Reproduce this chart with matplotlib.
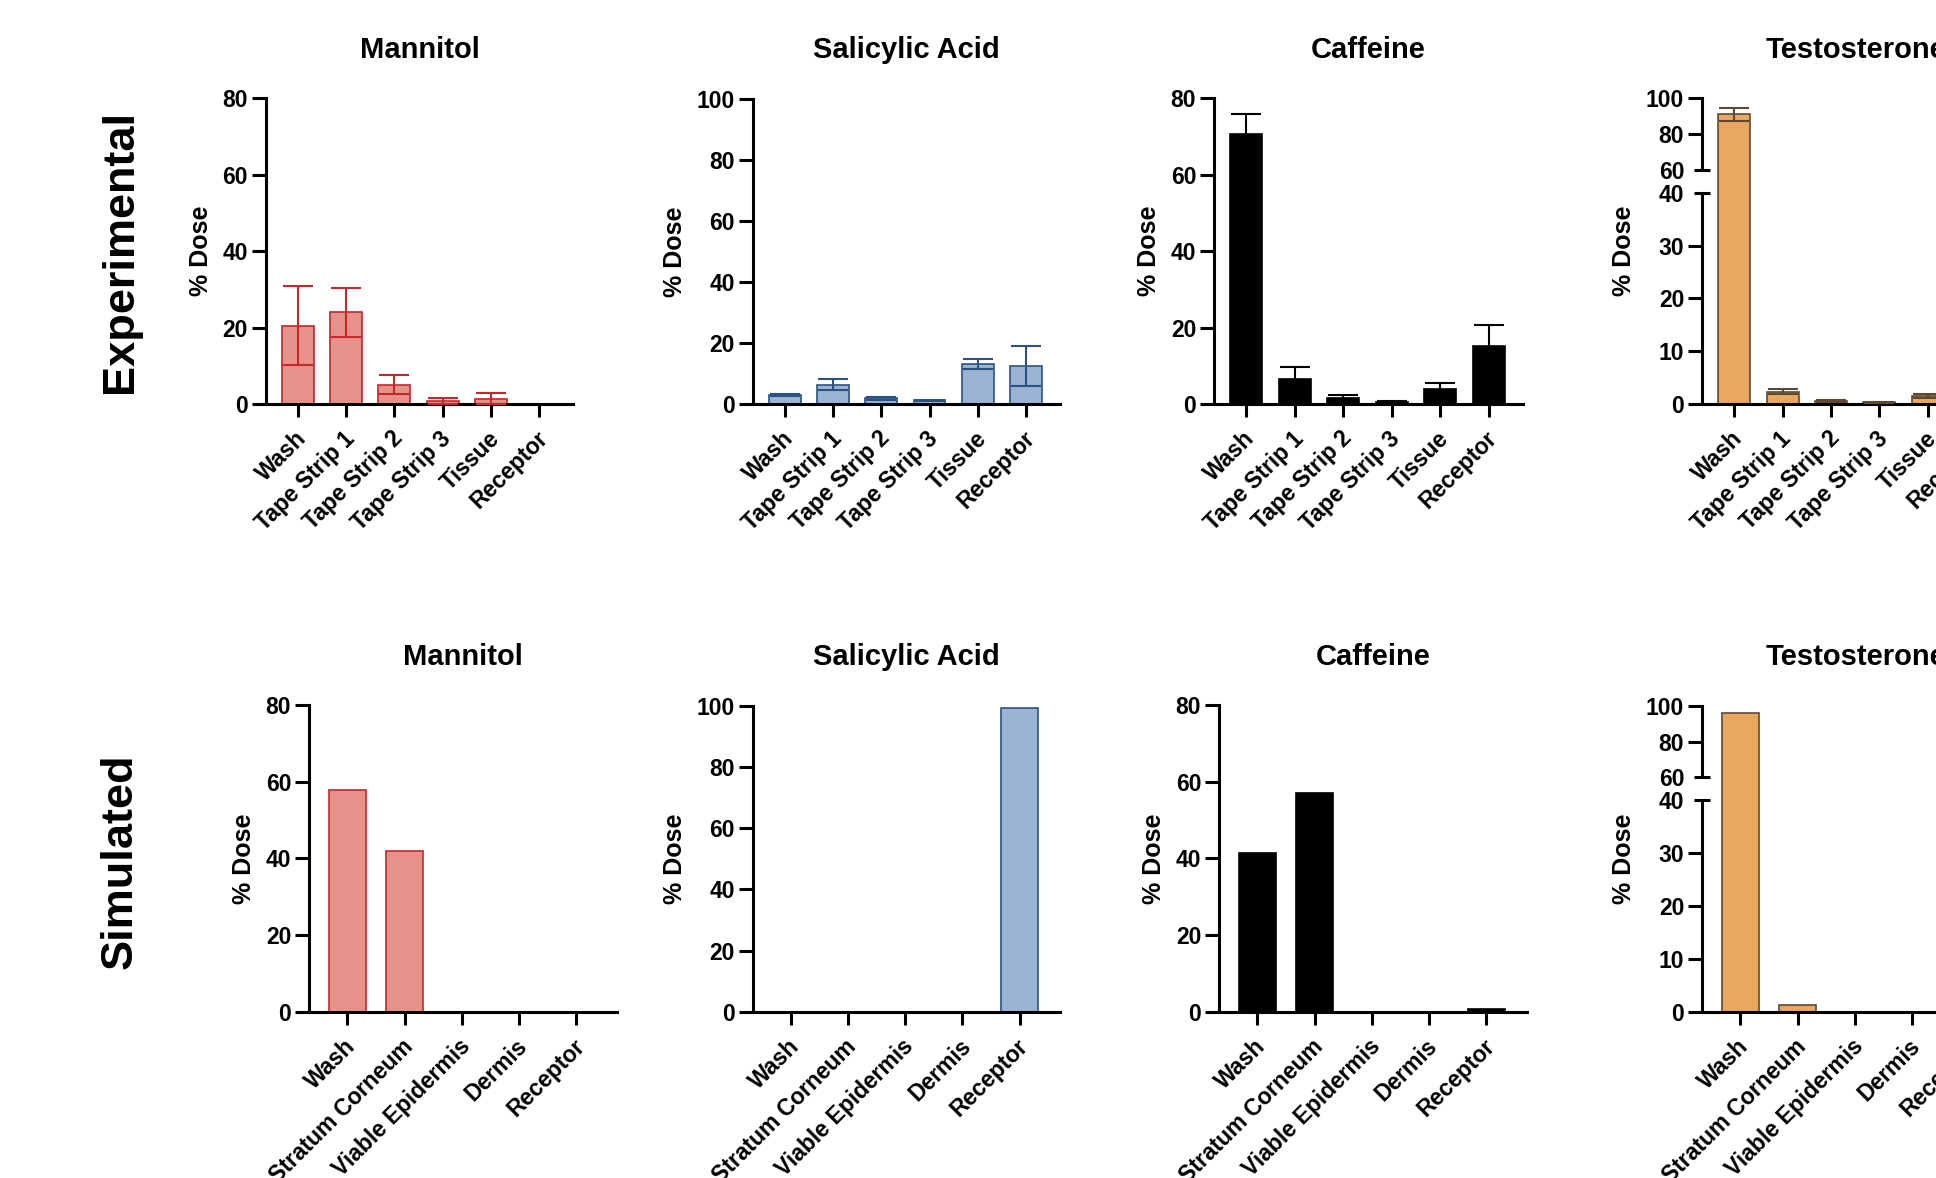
import numpy as np
import matplotlib
matplotlib.use("Agg")
import matplotlib.pyplot as plt
from matplotlib.transforms import ScaledTranslation

plt.rcParams['font.family'] = ['Liberation Sans', 'DejaVu Sans']
plt.rcParams['font.weight'] = 'bold'
plt.rcParams['axes.labelweight'] = 'bold'

W, H, DPI = 1936, 1178, 100

# ---------------- data ----------------
exp_categories = ["Wash", "Tape Strip 1", "Tape Strip 2", "Tape Strip 3", "Tissue", "Receptor"]
sim_categories = ["Wash", "Stratum Corneum", "Viable Epidermis", "Dermis", "Receptor"]
compounds = ["Mannitol", "Salicylic Acid", "Caffeine", "Testosterone"]
row_labels = ["Experimental", "Simulated"]

mannitol_exp = [20.5, 24.0, 5.1, 0.8, 1.4, 0.0]
mannitol_exp_sd = [10.3, 6.4, 2.6, 0.9, 1.5, 0.0]
salicylic_exp = [2.9, 6.3, 1.9, 1.2, 13.2, 12.5]
salicylic_exp_sd = [0.35, 1.8, 0.5, 0.25, 1.6, 6.5]
caffeine_exp = [70.6, 6.5, 1.6, 0.6, 3.9, 15.1]
caffeine_exp_sd = [5.4, 3.1, 0.7, 0.3, 1.6, 5.6]
testosterone_exp = [91.1, 2.3, 0.6, 0.3, 1.5, 0.5]
testosterone_exp_sd = [3.5, 0.5, 0.2, 0.1, 0.4, 0.2]

mannitol_sim = [57.8, 41.9, 0.0, 0.0, 0.0]
salicylic_sim = [0.0, 0.0, 0.0, 0.0, 99.4]
caffeine_sim = [41.5, 57.0, 0.0, 0.0, 0.7]
testosterone_sim = [95.8, 1.3, 0.0, 0.0, 0.0]

ticks_80 = [0, 20, 40, 60, 80]
ticks_100 = [0, 20, 40, 60, 80, 100]
ticks_broken = [0, 10, 20, 30, 40, 60, 80, 100]

fill_colors = ["#E5928B", "#9BB3D4", "#000000", "#E8A85F"]
edge_colors = ["#C4282C", "#2C5282", "#000000", "#5E4A34"]

# ---------------- styling ----------------
LW = 2.2
TICK_FS = 16.5
TITLE_FS = 21
LABEL_FS = 18
ROW_FS = 32.5


def px_rect(l, t, r, b):
    return [l / W, 1 - b / H, (r - l) / W, (b - t) / H]


def fwd(y):
    y = np.asarray(y, dtype=float)
    return np.where(y <= 40, y * 5.2825,
                    np.where(y <= 60, 211.3 + (y - 40) * 1.135,
                             234.0 + (y - 60) * 1.7925))


def inv(v):
    v = np.asarray(v, dtype=float)
    return np.where(v <= 211.3, v / 5.2825,
                    np.where(v <= 234.0, 40 + (v - 211.3) / 1.135,
                             60 + (v - 234.0) / 1.7925))


fig = plt.figure(figsize=(W / DPI, H / DPI), dpi=DPI)
label_shift = ScaledTranslation(5 / DPI, -31 / DPI, fig.dpi_scale_trans)


def panel(rect, cats, vals, sd, ci, yticks, ymax, xl, broken=False):
    ax = fig.add_axes(px_rect(*rect))
    x = np.arange(len(cats))
    width = 0.66 if len(cats) == 6 else 0.65
    ax.bar(x, vals, width=width, color=fill_colors[ci], edgecolor=edge_colors[ci],
           linewidth=1.2, zorder=2)
    if sd is not None:
        xs = [xi for xi, s in zip(x, sd) if s > 0]
        vs = [v for v, s in zip(vals, sd) if s > 0]
        ss = [s for s in sd if s > 0]
        ax.errorbar(xs, vs, yerr=ss, fmt='none', ecolor=edge_colors[ci],
                    elinewidth=1.5, capsize=11, capthick=1.5, zorder=3)
    if broken:
        ax.set_yscale('function', functions=(fwd, inv))
    ax.set_ylim(0, ymax)
    ax.set_xlim(*xl)
    ax.set_yticks(yticks)
    ax.set_yticklabels([str(t) for t in yticks])
    ax.set_xticks(x)
    ax.set_xticklabels([])
    tr_lab = ax.get_xaxis_transform() + label_shift
    for xi, c in zip(x, cats):
        ax.text(xi, 0, c, transform=tr_lab, rotation=45, ha='right', va='center',
                rotation_mode='anchor', fontsize=TICK_FS, fontweight='bold',
                clip_on=False)
    for s in ['top', 'right']:
        ax.spines[s].set_visible(False)
    ax.spines['bottom'].set_linewidth(LW)
    ax.spines['left'].set_linewidth(LW)
    ax.tick_params(axis='y', length=10, width=LW, labelsize=TICK_FS, pad=3)
    ax.tick_params(axis='x', length=9.4, width=LW, labelsize=TICK_FS, pad=9)
    ax.set_ylabel("% Dose", fontsize=LABEL_FS, labelpad=7)
    if broken:
        ax.spines['left'].set_visible(False)
        tr = ax.get_yaxis_transform()
        ax.plot([0, 0], [0, 40], transform=tr, color='black', lw=LW,
                clip_on=False, solid_capstyle='projecting', zorder=4)
        ax.plot([0, 0], [60, 100], transform=tr, color='black', lw=LW,
                clip_on=False, solid_capstyle='projecting', zorder=4)
        for t in ax.yaxis.get_major_ticks():
            if t.get_loc() in (40, 60):
                t.tick1line.set_visible(False)
        ax.plot([0, 0], [40, 60], transform=tr, linestyle='none', marker='_',
                markersize=11.5, mew=LW, color='black', clip_on=False, zorder=4)
    cx = (rect[0] + rect[2]) / 2
    return ax, cx


top_y_title = 49.5
bot_y_title = 657

rects_top = [(266, 98.3, 573, 404), (752.7, 99, 1060, 404),
             (1214.3, 98.3, 1522.7, 404), (1702.3, 98.3, 2010, 404)]
rects_bot = [(309.3, 705, 616.7, 1011.7), (752.7, 705.7, 1060, 1011.7),
             (1219.3, 705, 1526.7, 1011.7), (1702.3, 705.7, 2009.5, 1011.7)]

exp_vals = [mannitol_exp, salicylic_exp, caffeine_exp, testosterone_exp]
exp_sds = [mannitol_exp_sd, salicylic_exp_sd, caffeine_exp_sd, testosterone_exp_sd]
sim_vals = [mannitol_sim, salicylic_sim, caffeine_sim, testosterone_sim]
yticks_list = [ticks_80, ticks_100, ticks_80, ticks_broken]
ymax_list = [80, 100, 80, 100]

for i in range(4):
    ax, cx = panel(rects_top[i], exp_categories, exp_vals[i], exp_sds[i], i,
                   yticks_list[i], ymax_list[i], (-0.66, 5.7), broken=(i == 3))
    fig.text(cx / W, 1 - top_y_title / H, compounds[i], ha='center', va='center',
             fontsize=TITLE_FS, fontweight='bold')
    ax, cx = panel(rects_bot[i], sim_categories, sim_vals[i], None, i,
                   yticks_list[i], ymax_list[i], (-0.665, 4.705), broken=(i == 3))
    fig.text(cx / W, 1 - bot_y_title / H, compounds[i], ha='center', va='center',
             fontsize=TITLE_FS, fontweight='bold')

fig.text(120 / W, 1 - 251 / H, row_labels[0], rotation=90, ha='center', va='center',
         fontsize=ROW_FS, fontweight='bold')
fig.text(120 / W, 1 - 861 / H, row_labels[1], rotation=90, ha='center', va='center',
         fontsize=ROW_FS, fontweight='bold')

fig.savefig("out.png", dpi=DPI)
